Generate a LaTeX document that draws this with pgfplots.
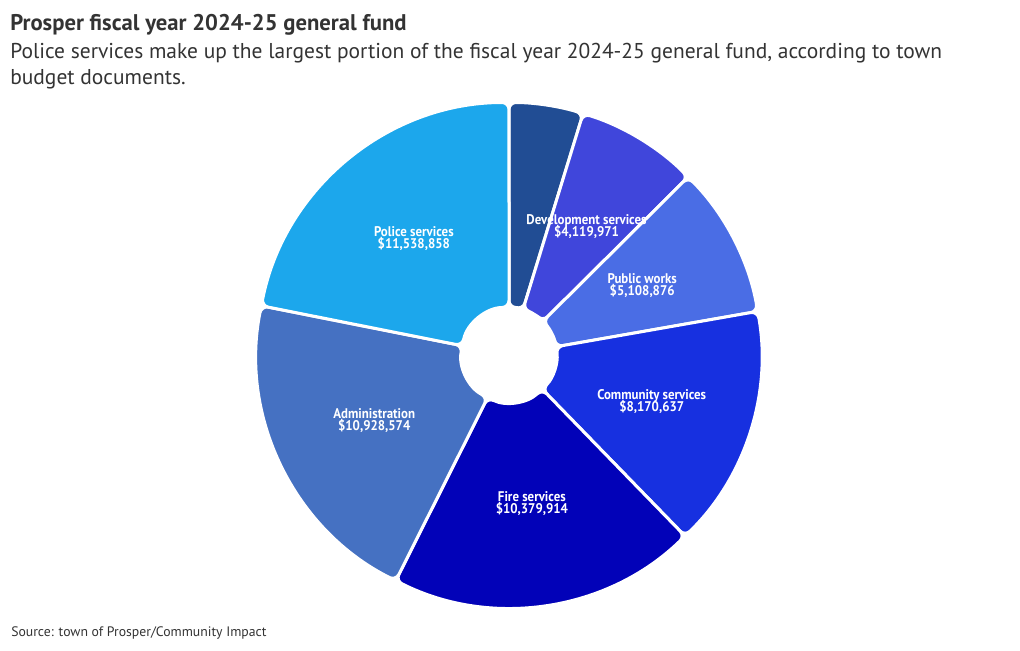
\documentclass[border=0pt]{standalone}
\usepackage{pgfplots}
\pgfplotsset{compat=1.18}
\usepackage{pgfplotstable}
\usepackage{fontspec}
\setmainfont{PT Sans}
\newfontfamily\labfont[FakeStretch=0.92]{PT Sans Bold}

\definecolor{txt}{HTML}{333333}
\definecolor{cNavy}{HTML}{214D94}
\definecolor{cDev}{HTML}{4046DB}
\definecolor{cPub}{HTML}{4A6DE5}
\definecolor{cCom}{HTML}{1730E0}
\definecolor{cFire}{HTML}{0202B8}
\definecolor{cAdm}{HTML}{4571C2}
\definecolor{cPol}{HTML}{1CA7EC}

% general fund by department, clockwise from 12 o'clock
\pgfplotstableread[col sep=comma,row sep=\\]{
label,value,color,show\\
Other,2500000,cNavy,0\\
Development services,4119971,cDev,1\\
Public works,5108876,cPub,1\\
Community services,8170637,cCom,1\\
Fire services,10379914,cFire,1\\
Administration,10928574,cAdm,1\\
Police services,11538858,cPol,1\\
}\budget

\def\px{0.75pt}
\def\Ro{252.5}
\def\Ri{47.5}
\def\Rl{150}

\tikzset{
  lab/.style={align=center, inner sep=0, text=white,
    font=\labfont\fontsize{10.5}{12}\selectfont},
}
\newcommand\labtext[1]{\csname lab#1\endcsname\\[-3pt]\$\pgfmathprintnumber[fixed,precision=0,1000 sep={,}]{\csname val#1\endcsname}}

\begin{document}
\begin{tikzpicture}
\def\total{0}
\pgfplotsforeachungrouped \i in {0,...,6}{%
  \pgfplotstablegetelem{\i}{value}\of\budget
  \xdef\total{\fpeval{\total+\pgfplotsretval}}%
}
\def\cum{0}
\pgfplotsforeachungrouped \i in {0,...,6}{%
  \pgfplotstablegetelem{\i}{value}\of\budget
  \let\v\pgfplotsretval
  \expandafter\xdef\csname val\i\endcsname{\v}%
  \edef\a{\fpeval{90-360*\cum/\total}}%
  \xdef\cum{\fpeval{\cum+\v}}%
  \edef\b{\fpeval{90-360*\cum/\total}}%
  \edef\m{\fpeval{(\a+\b)/2}}%
  \expandafter\xdef\csname sa\i\endcsname{\a}%
  \expandafter\xdef\csname ea\i\endcsname{\b}%
  \expandafter\xdef\csname ox\i\endcsname{\fpeval{\Ro*cosd(\a)}}%
  \expandafter\xdef\csname oy\i\endcsname{\fpeval{\Ro*sind(\a)}}%
  \expandafter\xdef\csname ix\i\endcsname{\fpeval{\Ri*cosd(\b)}}%
  \expandafter\xdef\csname iy\i\endcsname{\fpeval{\Ri*sind(\b)}}%
  \expandafter\xdef\csname lx\i\endcsname{\fpeval{\Rl*cosd(\m)}}%
  \expandafter\xdef\csname ly\i\endcsname{\fpeval{\Rl*sind(\m)}}%
  \pgfplotstablegetelem{\i}{label}\of\budget
  \expandafter\xdef\csname lab\i\endcsname{\pgfplotsretval}%
  \pgfplotstablegetelem{\i}{color}\of\budget
  \colorlet{slice\i}{\pgfplotsretval}%
}
\node[anchor=base west, inner sep=0, text=txt, font=\bfseries\fontsize{17}{20}\selectfont]
  at (10*\px,-30*\px) {Prosper fiscal year 2024-25 general fund};
\node[anchor=base west, inner sep=0, text=txt, font=\fontsize{16.1}{19.5}\selectfont]
  at (10*\px,-58*\px) {Police services make up the largest portion of the fiscal year 2024-25 general fund, according to town};
\node[anchor=base west, inner sep=0, text=txt, font=\fontsize{16.1}{19.5}\selectfont]
  at (10*\px,-84*\px) {budget documents.};
\node[anchor=base west, inner sep=0, text=txt, font=\fontsize{10.3}{12}\selectfont]
  at (11*\px,-636*\px) {Source: town of Prosper/Community Impact};
\begin{axis}[
  at={(509*\px,-355*\px)}, anchor=center,
  width=520*\px, height=520*\px, scale only axis,
  xmin=-260, xmax=260, ymin=-260, ymax=260,
  axis lines=none, clip=false,
  /pgf/number format/assume math mode=true,
]
\pgfplotsinvokeforeach{0,...,6}{
  \filldraw[fill=slice#1, draw=white, line width=3*\px, rounded corners=7*\px]
    (axis cs:\csname ox#1\endcsname,\csname oy#1\endcsname)
    arc[start angle=\csname sa#1\endcsname, end angle=\csname ea#1\endcsname, radius=\Ro]
    -- (axis cs:\csname ix#1\endcsname,\csname iy#1\endcsname)
    arc[start angle=\csname ea#1\endcsname, end angle=\csname sa#1\endcsname, radius=\Ri]
    -- cycle;
}
\pgfplotsinvokeforeach{1,...,6}{
  \node[lab] at (axis cs:\csname lx#1\endcsname,\csname ly#1\endcsname) {\labtext{#1}};
}
\end{axis}
\pgfresetboundingbox
\path[use as bounding box] (0,0) rectangle (1020*\px,-650*\px);
\end{tikzpicture}
\end{document}
